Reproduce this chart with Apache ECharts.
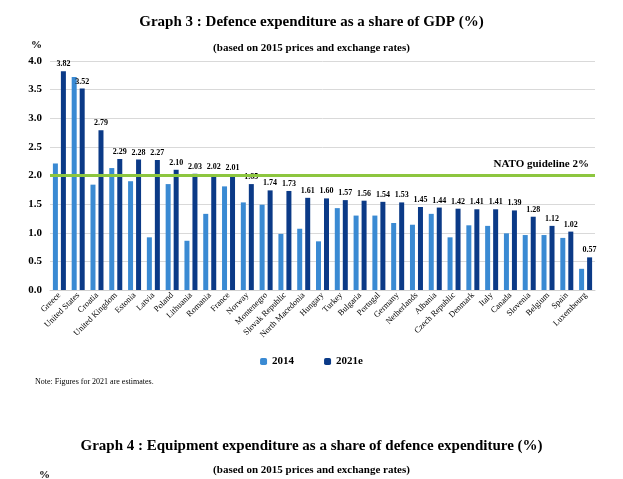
<!DOCTYPE html>
<html>
<head>
<meta charset="utf-8">
<script src="https://cdn.jsdelivr.net/npm/echarts@6/dist/echarts.min.js"></script>
<style>
  body { margin: 0; background: #fff; }
  #chart { width: 623px; height: 479px; }
</style>
</head>
<body>
<div id="chart"></div>
<script>
var countries = ['Greece', 'United States', 'Croatia', 'United Kingdom', 'Estonia', 'Latvia', 'Poland',
    'Lithuania', 'Romania', 'France', 'Norway', 'Montenegro', 'Slovak Republic', 'North Macedonia',
    'Hungary', 'Turkey', 'Bulgaria', 'Portugal', 'Germany', 'Netherlands', 'Albania', 'Czech Republic',
    'Denmark', 'Italy', 'Canada', 'Slovenia', 'Belgium', 'Spain', 'Luxembourg'];
var values2014 = [2.21, 3.72, 1.84, 2.13, 1.90, 0.92, 1.85, 0.86, 1.33, 1.81, 1.53, 1.49, 0.98, 1.07,
    0.85, 1.43, 1.30, 1.30, 1.17, 1.14, 1.33, 0.92, 1.13, 1.12, 0.99, 0.96, 0.96, 0.91, 0.37];
var values2021 = [3.82, 3.52, 2.79, 2.29, 2.28, 2.27, 2.10, 2.03, 2.02, 2.01, 1.85, 1.74, 1.73, 1.61,
    1.60, 1.57, 1.56, 1.54, 1.53, 1.45, 1.44, 1.42, 1.41, 1.41, 1.39, 1.28, 1.12, 1.02, 0.57];
var natoGuideline = 2;

var serif = '"Liberation Serif", "DejaVu Serif", serif';
var myChart = echarts.init(document.getElementById('chart'));
myChart.setOption({
    textStyle: { fontFamily: serif },
    title: [
        { text: 'Graph 3 : Defence expenditure as a share of GDP (%)', left: 'center', top: 10,
          textStyle: { fontFamily: serif, fontSize: 15, fontWeight: 'bold', color: '#000' } },
        { text: '(based on 2015 prices and exchange rates)', left: 'center', top: 38,
          textStyle: { fontFamily: serif, fontSize: 11, fontWeight: 'bold', color: '#000' } },
        { text: 'Note: Figures for 2021 are estimates.', left: 30, top: 373,
          textStyle: { fontFamily: serif, fontSize: 8, fontWeight: 'normal', color: '#000' } },
        { text: 'Graph 4 : Equipment expenditure as a share of defence expenditure (%)', left: 'center', top: 434,
          textStyle: { fontFamily: serif, fontSize: 15, fontWeight: 'bold', color: '#000' } },
        { text: '(based on 2015 prices and exchange rates)', left: 'center', top: 460,
          textStyle: { fontFamily: serif, fontSize: 11, fontWeight: 'bold', color: '#000' } },
        { text: '%', left: 34, top: 465,
          textStyle: { fontFamily: serif, fontSize: 11, fontWeight: 'bold', color: '#000' } }
    ],
    legend: {
        bottom: 107,
        left: 'center',
        itemWidth: 7,
        itemHeight: 7,
        itemGap: 30,
        textStyle: { fontFamily: serif, fontSize: 11, fontWeight: 'bold', color: '#000' },
        data: ['2014', '2021e']
    },
    grid: { left: 50, right: 28, top: 61, bottom: 189 },
    xAxis: {
        type: 'category',
        data: countries,
        axisTick: { show: false },
        axisLine: { lineStyle: { color: '#d0d0d0' } },
        axisLabel: { rotate: 45, interval: 0, fontSize: 8.5, color: '#000', fontFamily: serif, margin: 4 }
    },
    yAxis: {
        type: 'value',
        name: '%',
        nameLocation: 'end',
        nameGap: 10,
        nameTextStyle: { fontFamily: serif, fontSize: 11, fontWeight: 'bold', color: '#000', align: 'right', padding: [0, 8, 0, 0] },
        min: 0,
        max: 4,
        interval: 0.5,
        axisLabel: { formatter: function (v) { return v.toFixed(1); }, fontFamily: serif, fontSize: 11, fontWeight: 'bold', color: '#000' },
        splitLine: { lineStyle: { color: '#d9d9d9' } }
    },
    series: [
        {
            name: '2014',
            type: 'bar',
            data: values2014,
            barWidth: 5,
            barGap: '60%',
            itemStyle: { color: '#3a8ad3' }
        },
        {
            name: '2021e',
            type: 'bar',
            data: values2021,
            barWidth: 5,
            itemStyle: { color: '#0b3a87' },
            label: {
                show: true,
                position: 'top',
                distance: 3,
                formatter: function (p) { return p.value.toFixed(2); },
                fontFamily: serif,
                fontSize: 8,
                fontWeight: 'bold',
                color: '#000'
            },
            markLine: {
                symbol: 'none',
                silent: true,
                lineStyle: { color: '#8dc63f', width: 3, type: 'solid' },
                label: {
                    position: 'insideEndTop',
                    formatter: 'NATO guideline 2%',
                    fontFamily: serif,
                    fontSize: 11,
                    fontWeight: 'bold',
                    color: '#000',
                    distance: 6
                },
                data: [{ yAxis: natoGuideline }]
            }
        }
    ]
});
</script>
</body>
</html>
